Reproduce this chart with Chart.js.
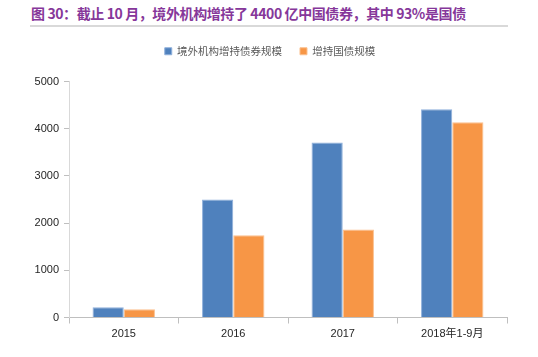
<!DOCTYPE html>
<html>
<head>
<meta charset="utf-8">
<script src="https://cdn.jsdelivr.net/npm/chart.js@4/dist/chart.umd.min.js"></script>
<style>
  html, body { margin: 0; padding: 0; background: #fff; }
  #wrap { position: relative; width: 538px; height: 357px; }
  #title { position: absolute; left: 31px; top: 4px; font: bold 14px 'Noto Sans CJK SC', 'Liberation Sans', sans-serif; color: #86379a; white-space: nowrap; letter-spacing: -0.4px; line-height: 18px; }
  #rule { position: absolute; left: 30px; top: 25px; width: 478px; height: 2px; background: #d9d9d9; }
  canvas { position: absolute; left: 0; top: 0; }
</style>
</head>
<body>
<div id="wrap">
  <div id="title">图 30：截止 10 月，境外机构增持了 4400 亿中国债券，其中 93%是国债</div>
  <div id="rule"></div>
  <canvas id="c" width="538" height="357"></canvas>
</div>
<script>
const categories = ['2015', '2016', '2017', '2018年1-9月'];
const seriesNames = ['境外机构增持债券规模', '增持国债规模'];
const bondHoldings = [215, 2500, 3710, 4410];
const govBondHoldings = [175, 1740, 1865, 4135];
const yTicks = [0, 1000, 2000, 3000, 4000, 5000];

const numFont = "'Liberation Sans Narrow', 'Liberation Sans', 'Noto Sans CJK SC', sans-serif";

const legendGap = {
  id: 'legendGap',
  beforeInit(chart) {
    const origFit = chart.legend.fit;
    chart.legend.fit = function () {
      origFit.bind(this)();
      this.height += 15;
    };
  }
};

new Chart(document.getElementById('c'), {
  type: 'bar',
  data: {
    labels: categories,
    datasets: [
      { label: seriesNames[0], data: bondHoldings, backgroundColor: '#4f81bd', borderColor: '#8fb0dc', borderWidth: 1 },
      { label: seriesNames[1], data: govBondHoldings, backgroundColor: '#f79646', borderColor: '#fbc08f', borderWidth: 1 }
    ]
  },
  plugins: [legendGap],
  options: {
    responsive: false,
    animation: false,
    layout: { padding: { top: 28, right: 31, left: 33, bottom: 0 } },
    datasets: { bar: { barPercentage: 1.0, categoryPercentage: 0.57 } },
    plugins: {
      legend: {
        position: 'top',
        labels: {
          font: { family: "'Noto Sans CJK SC', sans-serif", size: 10.5 },
          color: '#595959',
          boxWidth: 7, boxHeight: 7,
          padding: 18
        }
      },
      tooltip: { enabled: false }
    },
    scales: {
      x: {
        grid: { display: true, offset: true, drawOnChartArea: false, drawTicks: true, tickLength: 6, color: '#bfbfbf' },
        border: { display: true, color: '#bfbfbf', width: 1 },
        ticks: { font: { family: numFont, size: 11 }, color: '#262626', padding: 4 },
        afterFit: (s) => { s.height = 39.5; }
      },
      y: {
        min: 0, max: 5000,
        afterBuildTicks: (s) => { s.ticks = yTicks.map(v => ({ value: v })); },
        grid: { display: true, drawOnChartArea: false, drawTicks: true, tickLength: 5, color: '#bfbfbf' },
        border: { display: true, color: '#d9d9d9', width: 1 },
        ticks: { font: { family: numFont, size: 11 }, color: '#262626', padding: 5, callback: (v) => String(v) },
        afterFit: (s) => { s.width = 36; }
      }
    }
  }
});
</script>
</body>
</html>
